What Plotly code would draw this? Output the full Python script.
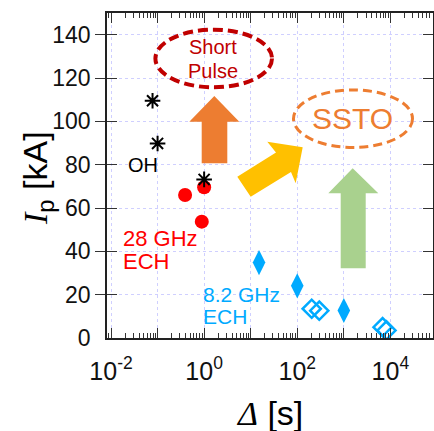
import plotly.graph_objects as go

# ---------------- data ----------------
oh_x = [0.078, 0.10, 1.0]
oh_y = [109.5, 89.8, 73.2]

ech28_x = [0.39, 1.0, 0.89]
ech28_y = [66.0, 69.6, 53.7]

ech82_filled_x = [15.1, 100.0, 1000.0]
ech82_filled_y = [34.8, 24.1, 12.7]

ech82_open_x = [204.0, 297.0, 6800.0, 8240.0]
ech82_open_y = [13.5, 12.6, 5.0, 3.5]

x_labeled = [1e-2, 1e0, 1e2, 1e4]
x_labels = ["10<sup>-2</sup>", "10<sup>0</sup>", "10<sup>2</sup>", "10<sup>4</sup>"]
x_unlabeled = [1e-1, 1e1, 1e3]
x_minor = [k * 10.0 ** n for n in range(-3, 5) for k in range(2, 10)]
y_ticks = [0, 20, 40, 60, 80, 100, 120, 140]
x_range_log = [-2.086, 4.915]
y_range = [0, 150]

# ---------------- layout geometry (pixels) ----------------
FW, FH = 434, 431
L, T, W, H = 107, 13, 326, 325


def px(x):
    return (x - L) / W


def py(y):
    return (T + H - y) / H


def path(points):
    return "M " + " L ".join(f"{px(a):.5f},{py(b):.5f}" for a, b in points) + " Z"


BLUE = "#00AAFF"
RED = "#FF0000"
ORANGE = "#ED7D31"
YELLOW = "#FFC000"
GREEN = "#A9D18E"
DARKRED = "#C00000"
FONT = "Liberation Sans, Arial, Helvetica, sans-serif"

fig = go.Figure()

fig.add_trace(go.Scatter(x=ech28_x, y=ech28_y, mode="markers",
                         marker=dict(symbol="circle", size=14, color=RED),
                         showlegend=False))
fig.add_trace(go.Scatter(x=oh_x, y=oh_y, mode="markers",
                         marker=dict(symbol="asterisk-open", size=13, color="black",
                                     line=dict(color="black", width=2)),
                         showlegend=False))
fig.add_trace(go.Scatter(x=ech82_filled_x, y=ech82_filled_y, mode="markers",
                         marker=dict(symbol="diamond-tall", size=18, color=BLUE),
                         showlegend=False))
fig.add_trace(go.Scatter(x=ech82_open_x, y=ech82_open_y, mode="markers",
                         xaxis="x2",
                         marker=dict(symbol="diamond-open", size=14, color=BLUE,
                                     line=dict(color=BLUE, width=2.5)),
                         showlegend=False))

shapes = []
shapes.append(dict(type="path", xref="paper", yref="paper", layer="above",
                   path=path([(214.3, 96), (239.3, 121.7), (227.3, 121.7), (227.3, 163.3),
                              (201.7, 163.3), (201.7, 121.7), (189.3, 121.7)]),
                   fillcolor=ORANGE, line=dict(width=0)))
shapes.append(dict(type="path", xref="paper", yref="paper", layer="above",
                   path=path([(352.7, 168.3), (378.3, 193.3), (365.7, 193.3), (365.7, 268.3),
                              (340.7, 268.3), (340.7, 193.3), (328.3, 193.3)]),
                   fillcolor=GREEN, line=dict(width=0)))
shapes.append(dict(type="path", xref="paper", yref="paper", layer="above",
                   path=path([(302.7, 147.3), (295.7, 183.3), (291.0, 172.0), (250.7, 196.7),
                              (237.3, 176.7), (276.0, 152.5), (267.3, 141.7)]),
                   fillcolor=YELLOW, line=dict(width=0)))
shapes.append(dict(type="circle", xref="paper", yref="paper", layer="above",
                   x0=px(213.7 - 58.3), x1=px(213.7 + 58.3),
                   y0=py(58.5 + 28.8), y1=py(58.5 - 28.8),
                   line=dict(color=DARKRED, width=4, dash="10px,5px")))
shapes.append(dict(type="circle", xref="paper", yref="paper", layer="above",
                   x0=px(353 - 59.5), x1=px(353 + 59.5),
                   y0=py(118.7 + 28.8), y1=py(118.7 - 28.8),
                   line=dict(color=ORANGE, width=3, dash="9px,5px")))

ann = []


def text(s, x, y, size, color, xanchor="center"):
    ann.append(dict(text=s, x=px(x), y=py(y), xref="paper", yref="paper",
                    xanchor=xanchor, yanchor="middle", showarrow=False,
                    font=dict(family=FONT, size=size, color=color)))


text("Short", 212.7, 46.7, 20, DARKRED)
text("Pulse", 212.7, 71, 20, DARKRED)
text("SSTO", 352.5, 119, 30, ORANGE)
text("OH", 143, 165, 20, "black")
text("28 GHz", 121, 238, 22, RED, "left")
text("ECH", 121, 261, 22, RED, "left")
text("8.2 GHz", 201, 294.5, 21, BLUE, "left")
text("ECH", 201, 316.7, 21, BLUE, "left")

ann.append(dict(text="<span style='font-family:Liberation Serif'><i>I</i></span><sub>p</sub> [kA]",
                x=px(37), y=py(178), xref="paper", yref="paper", textangle=-90,
                xanchor="center", yanchor="middle", showarrow=False,
                font=dict(family=FONT, size=34, color="black")))
ann.append(dict(text="<span style='font-family:Liberation Serif'><i>Δ</i></span> [s]",
                x=px(269), y=py(413), xref="paper", yref="paper",
                xanchor="center", yanchor="middle", showarrow=False,
                font=dict(family=FONT, size=34, color="black")))

axis_common = dict(showline=True, linecolor="#222", linewidth=1.5, mirror="allticks",
                   ticks="inside", ticklen=10, tickwidth=1.3, tickcolor="#333",
                   showgrid=True, gridcolor="#CFCFFF", gridwidth=1, griddash="dot",
                   zeroline=False, automargin=False)

fig.update_layout(
    width=FW, height=FH,
    margin=dict(l=L, r=FW - L - W, t=T, b=FH - T - H, autoexpand=False),
    paper_bgcolor="white", plot_bgcolor="white",
    font=dict(family=FONT, color="#111"),
    shapes=shapes, annotations=ann,
    xaxis=dict(type="log", range=x_range_log, tickmode="array",
               tickvals=x_labeled, ticktext=x_labels, ticklabelstandoff=10,
               tickfont=dict(size=25, family=FONT, color="#111"),
               minor=dict(tickmode="array", tickvals=x_minor, ticks="inside",
                          ticklen=5, tickwidth=1.2, tickcolor="#333", showgrid=False),
               **axis_common),
    xaxis2=dict(type="log", range=x_range_log, overlaying="x", matches="x",
                tickmode="array", tickvals=x_unlabeled, showticklabels=False,
                **axis_common),
    yaxis=dict(range=y_range, tickmode="array", tickvals=y_ticks,
               ticklabelstandoff=10,
               tickfont=dict(size=23, family=FONT, color="#111"),
               **axis_common),
)

fig.write_html("out.html", config={"displayModeBar": False},
               post_script="document.body.style.margin='0';document.body.style.overflow='hidden';")
